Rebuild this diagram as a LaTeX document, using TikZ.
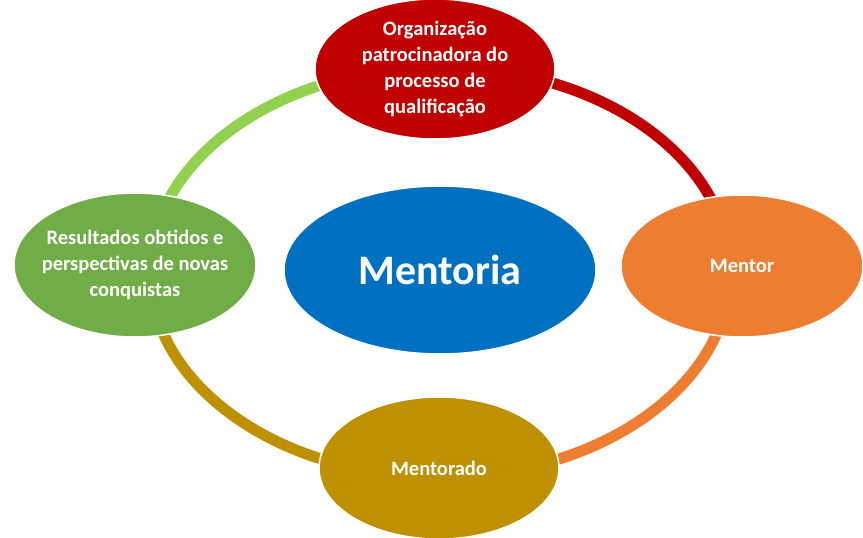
\documentclass[tikz,border=0pt]{standalone}
\usepackage{fontspec}
\setmainfont{Carlito}
\usetikzlibrary{shapes.geometric}
\definecolor{cred}{HTML}{C00000}
\definecolor{corange}{HTML}{ED7D31}
\definecolor{cgold}{HTML}{BF9000}
\definecolor{cgreen}{HTML}{70AD47}
\definecolor{clgreen}{HTML}{92D050}
\definecolor{cblue}{HTML}{0070C0}
\begin{document}
\begin{tikzpicture}[x=1pt,y=-1pt,
  ell/.style={ellipse,draw=white,line width=1.5pt,text=white,align=center,font=\bfseries\fontsize{20.5}{26}\selectfont,inner sep=-14pt},
  ring/.style={line width=11pt}]
\useasboundingbox (0,0) rectangle (863,538);
\coordinate (c) at (440,272);
\draw[ring,cred] ([shift={(0:290 and 205)}]c) arc[start angle=0,end angle=-90,x radius=290,y radius=205];
\draw[ring,corange] ([shift={(0:290 and 205)}]c) arc[start angle=0,end angle=90,x radius=290,y radius=205];
\draw[ring,cgold] ([shift={(180:290 and 205)}]c) arc[start angle=180,end angle=90,x radius=290,y radius=205];
\draw[ring,clgreen] ([shift={(180:290 and 205)}]c) arc[start angle=180,end angle=270,x radius=290,y radius=205];
\node[ell,fill=cblue,minimum width=312,minimum height=168,font=\bfseries\fontsize{42}{48}\selectfont] (m) at (440,270) {Mentoria};
\node[ell,fill=cred,minimum width=240,minimum height=140] (o) at (435,69) {Organização\\patrocinadora do\\processo de\\qualificação};
\node[ell,fill=corange,minimum width=242,minimum height=142] (r) at (742,266) {Mentor};
\node[ell,fill=cgold,minimum width=240,minimum height=142] (b) at (439,468) {Mentorado};
\node[ell,fill=cgreen,minimum width=242,minimum height=144] (l) at (135,265) {Resultados obtidos e\\perspectivas de novas\\conquistas};
\end{tikzpicture}
\end{document}
